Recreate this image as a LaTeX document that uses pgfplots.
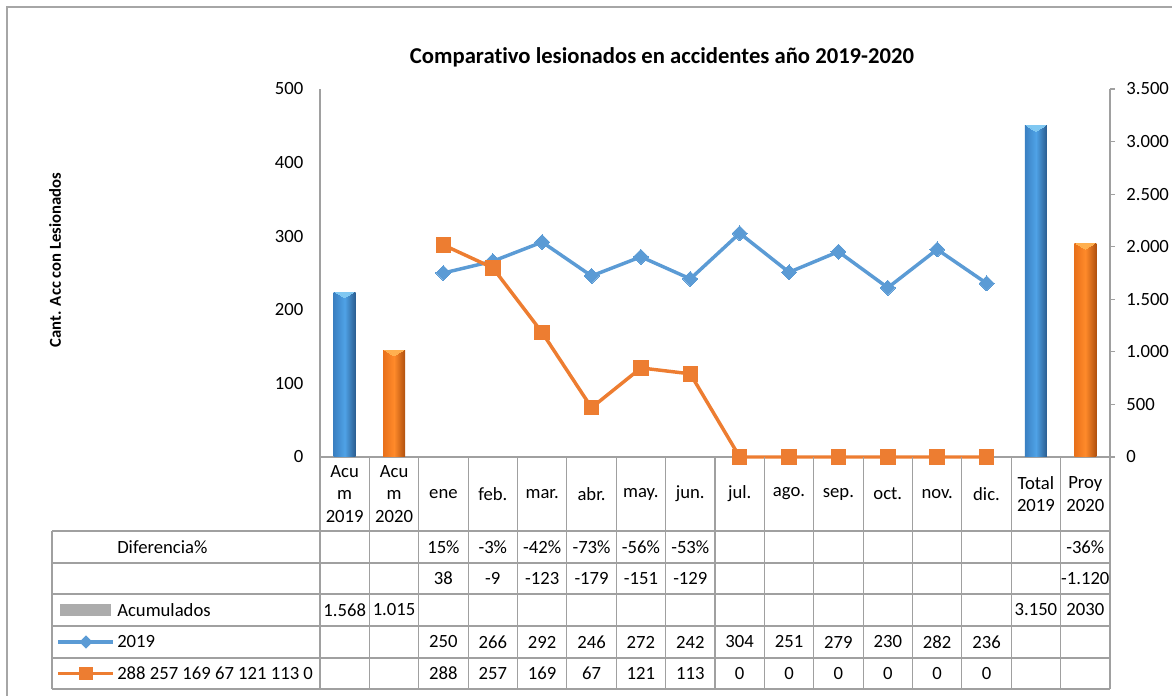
\documentclass[border=0pt]{standalone}
\usepackage{pgfplots}
\pgfplotsset{compat=1.18}
\usepackage{fontspec}
\setmainfont{Carlito}[Ligatures=NoCommon]
\definecolor{lblue}{HTML}{5B9BD5}
\definecolor{lorange}{HTML}{ED7D31}
\definecolor{bbL}{HTML}{3A80C2}
\definecolor{bbM}{HTML}{4FA2E6}
\definecolor{bbD}{HTML}{2A5C8E}
\definecolor{bbT}{HTML}{80C8F2}
\definecolor{boL}{HTML}{E8701A}
\definecolor{boM}{HTML}{FF8A2A}
\definecolor{boD}{HTML}{B0500E}
\definecolor{boT}{HTML}{FFB050}
\definecolor{gridc}{HTML}{A0A0A0}
\newcommand\tabfont{\fontsize{14}{17}\selectfont}
\newcommand\cell[3]{\node[font=\tabfont,align=center,inner sep=0pt] at ({(240+37.03*(#1+0.5))*1pt},{#2*1pt}) {#3};}
\begin{document}
\begin{tikzpicture}
\useasboundingbox (0,0) rectangle (879pt,522pt);
% outer frame
\draw[gray!70, line width=0.8pt] (5.25pt,-2pt) -- (5.25pt,516.75pt) -- (882pt,516.75pt);
% left axis with lines
\begin{axis}[
  at={(240pt,179.25pt)}, anchor=south west,
  scale only axis, width=592.5pt, height=276pt,
  xmin=-0.5, xmax=15.5, ymin=0, ymax=500,
  axis y line*=left, axis x line*=bottom,
  axis line style={gridc, line width=0.8pt},
  xtick=\empty,
  ytick={0,100,...,500},
  major tick length=0pt,
  y tick label style={font=\fontsize{14}{17}\selectfont, xshift=-9pt},
  /pgf/number format/assume math mode=true,
  clip=false,
]
\addplot[lblue, line width=2.6pt, mark=square*, mark size=4pt, mark options={rotate=45, fill=lblue, draw=lblue, line width=0pt}]
 coordinates {(2,250)(3,266)(4,292)(5,246)(6,272)(7,242)(8,304)(9,251)(10,279)(11,230)(12,282)(13,236)};
\addplot[lorange, line width=2.6pt, mark=square*, mark size=5.4pt, mark options={fill=lorange, draw=lorange, line width=0pt}]
 coordinates {(2,288)(3,257)(4,169)(5,67)(6,121)(7,113)(8,0)(9,0)(10,0)(11,0)(12,0)(13,0)};
\end{axis}
% right axis with bars
\begin{axis}[
  at={(240pt,179.25pt)}, anchor=south west,
  scale only axis, width=592.5pt, height=276pt,
  xmin=-0.5, xmax=15.5, ymin=0, ymax=3500,
  axis y line*=right, axis x line=none,
  axis line style={gridc, line width=0.8pt},
  ytick={0,500,...,3500},
  tick align=outside, major tick length=3.75pt,
  tick style={gridc, line width=0.8pt},
  y tick label style={font=\fontsize{14}{17}\selectfont, xshift=5pt},
  /pgf/number format/.cd, 1000 sep={.}, assume math mode=true,
]
\addplot[ybar, bar width=16.5pt, bar shift=0pt, draw=none, left color=bbL, right color=bbD, middle color=bbM] coordinates {(0,1568)};
\addplot[ybar, bar width=16.5pt, bar shift=0pt, draw=none, left color=bbL, right color=bbD, middle color=bbM] coordinates {(14,3150)};
\addplot[ybar, bar width=16.5pt, bar shift=0pt, draw=none, left color=boL, right color=boD, middle color=boM] coordinates {(1,1015)};
\addplot[ybar, bar width=16.5pt, bar shift=0pt, draw=none, left color=boL, right color=boD, middle color=boM] coordinates {(15,2030)};
\addplot[only marks, color=bbT, mark=triangle*, mark size=8pt, mark options={rotate=180, yscale=0.35, yshift=4pt, fill=bbT, draw=bbT, line width=0pt}] coordinates {(0,1568)(14,3150)};
\addplot[only marks, color=boT, mark=triangle*, mark size=8pt, mark options={rotate=180, yscale=0.35, yshift=4pt, fill=boT, draw=boT, line width=0pt}] coordinates {(1,1015)(15,2030)};
\end{axis}
% table grid
\foreach \k in {0,...,16} {\draw[gridc, line width=0.8pt] ({(240+37.03*\k)*1pt},179.25pt) -- ({(240+37.03*\k)*1pt},5.25pt);}
\foreach \yy in {123.75,99.75,76.5,52.5,28.5,5.25} {\draw[gridc, line width=0.8pt] (39pt,\yy pt) -- (832.5pt,\yy pt);}
\draw[gridc, line width=0.8pt] (39pt,123.75pt) -- (39pt,5.25pt);
% header
\cell{0}{151.5}{Acu\\m\\2019}
\cell{1}{151.5}{Acu\\m\\2020}
\foreach \m [count=\i from 2] in {ene,feb.,mar.,abr.,may.,jun.,jul.,ago.,sep.,oct.,nov.,dic.} {\cell{\i}{151.5}{\m}}
\cell{14}{151.5}{Total\\2019}
\cell{15}{151.5}{Proy\\2020}
% row 1
\foreach \v [count=\i from 2] in {15\%,-3\%,-42\%,-73\%,-56\%,-53\%} {\cell{\i}{111.75}{\v}}
\cell{15}{111.75}{-36\%}
% row 2
\foreach \v [count=\i from 2] in {38,-9,-123,-179,-151,-129} {\cell{\i}{88.1}{\v}}
\cell{15}{88.1}{-1.120}
% row 3
\cell{0}{64.5}{1.568}
\cell{1}{64.5}{1.015}
\cell{14}{64.5}{3.150}
\cell{15}{64.5}{2030}
% row 4
\foreach \v [count=\i from 2] in {250,266,292,246,272,242,304,251,279,230,282,236} {\cell{\i}{40.5}{\v}}
% row 5
\foreach \v [count=\i from 2] in {288,257,169,67,121,113,0,0,0,0,0,0} {\cell{\i}{16.9}{\v}}
% legend column
\node[font=\tabfont, anchor=west, inner sep=0pt] at (87.75pt,111.75pt) {Diferencia\%};
\node[font=\tabfont, anchor=west, inner sep=0pt] at (87.75pt,64.5pt) {Acumulados};
\node[font=\tabfont, anchor=west, inner sep=0pt] at (87.75pt,40.5pt) {2019};
\node[font=\tabfont, anchor=west, inner sep=0pt] at (87.75pt,16.9pt) {288 257 169 67 121 113 0};
\fill[gray!65] (45pt,60pt) rectangle (83.25pt,69pt);
\draw[lblue, line width=2.6pt] (43.5pt,40.5pt) -- (84.75pt,40.5pt);
\fill[lblue] (64.5pt,40.5pt) ++(0,5pt) -- ++(-5pt,-5pt) -- ++(5pt,-5pt) -- ++(5pt,5pt) -- cycle;
\draw[lorange, line width=2.6pt] (43.5pt,16.9pt) -- (84.75pt,16.9pt);
\fill[lorange] (59.5pt,11.9pt) rectangle (69.5pt,21.9pt);
% titles
\node[font=\fontsize{17}{20}\selectfont\bfseries] at (496.5pt,479pt) {Comparativo lesionados en accidentes año 2019-2020};
\node[font=\fontsize{12.5}{15}\selectfont\bfseries, rotate=90] at (41.25pt,327pt) {Cant. Acc con Lesionados};
\end{tikzpicture}
\end{document}
